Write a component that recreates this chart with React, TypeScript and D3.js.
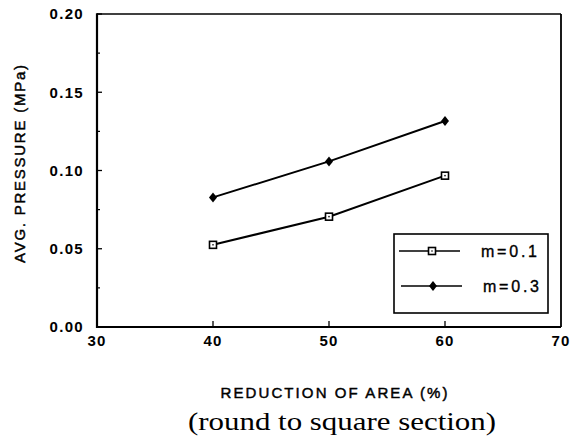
import React from "react";
import * as d3 from "d3";

const reductions = [40, 50, 60];
const seriesNames = ["m=0.1", "m=0.3"];
const m01 = [0.0525, 0.0705, 0.0967];
const m03 = [0.0828, 0.1058, 0.1316];
const xTicks = [30, 40, 50, 60, 70];
const yTicks = [0, 0.05, 0.1, 0.15, 0.2];
const yMinor = [0.025, 0.075, 0.125, 0.175];

const W = 572, H = 448;
const L = 97, R = 561, T = 14, B = 327;

export default function App() {
  const x = d3.scaleLinear().domain([30, 70]).range([L, R]);
  const y = d3.scaleLinear().domain([0, 0.2]).range([B, T]);
  const line = d3.line<number>().x((_, i) => x(reductions[i])).y((d) => y(d));
  const sans = "'Liberation Sans', Arial, Helvetica, sans-serif";

  const square = (cx: number, cy: number, key: string) => (
    <g key={key}>
      <rect x={cx - 3.5} y={cy - 3.5} width={7} height={7} fill="#fff" stroke="#000" strokeWidth={1.6} />
      <circle cx={cx} cy={cy} r={0.8} fill="#000" />
    </g>
  );
  const diamond = (cx: number, cy: number, key: string) => (
    <path key={key} d={`M${cx},${cy - 5}L${cx + 4},${cy}L${cx},${cy + 5}L${cx - 4},${cy}Z`} fill="#000" />
  );

  return (
    <svg width={W} height={H} style={{ position: "absolute", left: 0, top: 0, background: "#fff" }}>
      <rect x={0} y={0} width={W} height={H} fill="#fff" />
      {/* frame */}
      <line x1={L} y1={T} x2={R} y2={T} stroke="#000" strokeWidth={1.6} />
      <line x1={R} y1={T} x2={R} y2={B} stroke="#000" strokeWidth={1.8} />
      <line x1={L} y1={T - 0.8} x2={L} y2={B + 1} stroke="#000" strokeWidth={2.2} />
      <line x1={L} y1={B} x2={R} y2={B} stroke="#000" strokeWidth={2} />
      {/* y ticks */}
      {yTicks.map((t) => (
        <g key={"yt" + t}>
          <line x1={L} x2={L + 5} y1={y(t)} y2={y(t)} stroke="#000" strokeWidth={1.3} />
          <text x={84} y={y(t)} dy="0.36em" textAnchor="end" fontFamily={sans} fontSize={15} fontWeight="bold" letterSpacing={1.3} fill="#000">
            {t.toFixed(2)}
          </text>
        </g>
      ))}
      {yMinor.map((t) => (
        <line key={"ym" + t} x1={L} x2={L + 3} y1={y(t)} y2={y(t)} stroke="#000" strokeWidth={1.2} />
      ))}
      {/* x ticks */}
      {xTicks.map((t) => (
        <g key={"xt" + t}>
          {t > 30 && t < 70 && <line x1={x(t)} x2={x(t)} y1={B} y2={B - 6} stroke="#000" strokeWidth={1.3} />}
          <text x={x(t)} y={341} dy="0.36em" textAnchor="middle" fontFamily={sans} fontSize={15} fontWeight="bold" letterSpacing={1.2} fill="#000">
            {t}
          </text>
        </g>
      ))}
      {/* axis titles */}
      <text x={334} y={393} dy="0.36em" textAnchor="middle" fontFamily={sans} fontSize={15} textLength={227} lengthAdjust="spacing" fill="#000" stroke="#000" strokeWidth={0.45}>
        REDUCTION OF AREA (%)
      </text>
      <text transform={`translate(20,164) rotate(-90)`} dy="0.36em" textAnchor="middle" fontFamily={sans} fontSize={15} textLength={198} lengthAdjust="spacing" fill="#000" stroke="#000" strokeWidth={0.45}>
        AVG. PRESSURE (MPa)
      </text>
      <text x={342} y={421} dy="0.33em" textAnchor="middle" fontFamily="'Liberation Serif', 'Times New Roman', serif" fontSize={26} textLength={308} lengthAdjust="spacingAndGlyphs" fill="#000">
        (round to square section)
      </text>
      {/* series */}
      <path d={line(m01) || ""} fill="none" stroke="#000" strokeWidth={2} />
      <path d={line(m03) || ""} fill="none" stroke="#000" strokeWidth={2} />
      {m01.map((v, i) => square(x(reductions[i]), y(v), "s" + i))}
      {m03.map((v, i) => diamond(x(reductions[i]), y(v), "d" + i))}
      {/* legend */}
      <rect x={394} y={234} width={154} height={79} fill="#fff" stroke="#000" strokeWidth={1.6} />
      <line x1={399} x2={460} y1={251} y2={251} stroke="#000" strokeWidth={1.4} />
      {square(432, 251, "ls")}
      <text x={481} y={251} dy="0.36em" fontFamily={sans} fontSize={16} textLength={56} lengthAdjust="spacing" fill="#000" stroke="#000" strokeWidth={0.35}>{seriesNames[0]}</text>
      <line x1={401} x2={462} y1={286} y2={286} stroke="#000" strokeWidth={1.4} />
      {diamond(433, 286, "ld")}
      <text x={483} y={286} dy="0.36em" fontFamily={sans} fontSize={16} textLength={56} lengthAdjust="spacing" fill="#000" stroke="#000" strokeWidth={0.35}>{seriesNames[1]}</text>
    </svg>
  );
}
